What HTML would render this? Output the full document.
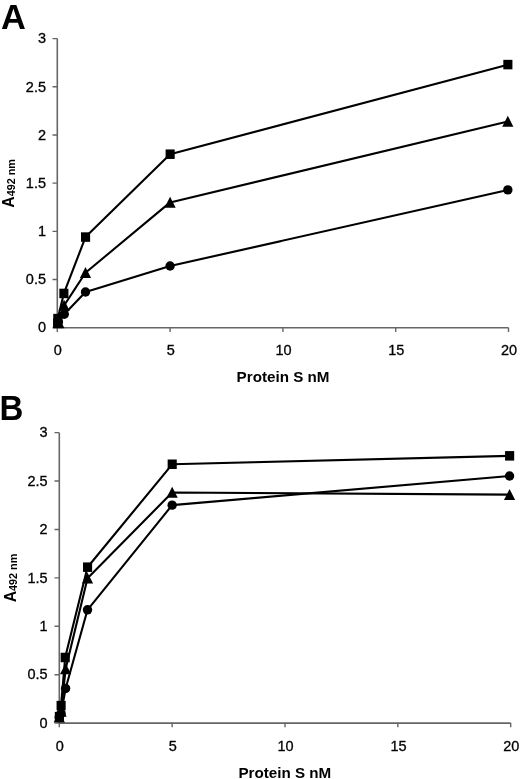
<!DOCTYPE html>
<html><head><meta charset="utf-8"><style>
html,body{margin:0;padding:0;background:#fff;}
body{width:520px;height:779px;overflow:hidden;}
svg{display:block;}
.t{font-family:"Liberation Sans",sans-serif;font-size:14.5px;fill:#000;stroke:#000;stroke-width:0.3px;}
.L{font-family:"Liberation Sans",sans-serif;font-size:35.5px;font-weight:bold;fill:#000;}
.xt{font-family:"Liberation Sans",sans-serif;font-size:15.2px;font-weight:bold;fill:#000;}
.yt{font-family:"Liberation Sans",sans-serif;font-size:15.8px;font-weight:bold;fill:#000;}
.sub{font-size:10.8px;}
</style></head><body>
<svg width="520" height="779" viewBox="0 0 520 779">
<defs><filter id="bl" x="0" y="0" width="520" height="779" filterUnits="userSpaceOnUse"><feGaussianBlur stdDeviation="0.4"/></filter></defs>
<rect width="520" height="779" fill="#fff"/>
<g filter="url(#bl)">
<path d="M57.30 38.62V327.70H508.50" fill="none" stroke="#666" stroke-width="1.6"/>
<text transform="translate(46 332.40) scale(1 1.07)" text-anchor="end" class="t">0</text>
<text transform="translate(46 284.22) scale(1 1.07)" text-anchor="end" class="t">0.5</text>
<text transform="translate(46 236.04) scale(1 1.07)" text-anchor="end" class="t">1</text>
<text transform="translate(46 187.86) scale(1 1.07)" text-anchor="end" class="t">1.5</text>
<text transform="translate(46 139.68) scale(1 1.07)" text-anchor="end" class="t">2</text>
<text transform="translate(46 91.50) scale(1 1.07)" text-anchor="end" class="t">2.5</text>
<text transform="translate(46 43.32) scale(1 1.07)" text-anchor="end" class="t">3</text>
<text transform="translate(57.90 354.8) scale(1 1.07)" text-anchor="middle" class="t">0</text>
<text transform="translate(170.70 354.8) scale(1 1.07)" text-anchor="middle" class="t">5</text>
<text transform="translate(283.50 354.8) scale(1 1.07)" text-anchor="middle" class="t">10</text>
<text transform="translate(396.30 354.8) scale(1 1.07)" text-anchor="middle" class="t">15</text>
<text transform="translate(509.10 354.8) scale(1 1.07)" text-anchor="middle" class="t">20</text>
<path d="M52.50 327.70H57.30M52.50 279.52H57.30M52.50 231.34H57.30M52.50 183.16H57.30M52.50 134.98H57.30M52.50 86.80H57.30M52.50 38.62H57.30M57.30 327.70V331.90M170.10 327.70V331.90M282.90 327.70V331.90M395.70 327.70V331.90M508.50 327.70V331.90" fill="none" stroke="#666" stroke-width="1.4"/>
<path d="M58.43 321.92L64.29 314.21L85.50 292.05L170.10 266.03L507.82 189.91" fill="none" stroke="#000" stroke-width="2.1" stroke-linejoin="round"/>
<path d="M58.88 322.88L64.07 305.54L85.50 272.77L170.10 202.43L507.82 121.49" fill="none" stroke="#000" stroke-width="2.1" stroke-linejoin="round"/>
<path d="M57.53 323.36L57.75 318.64L63.84 293.49L85.50 237.12L170.10 154.25L507.82 64.64" fill="none" stroke="#000" stroke-width="2.1" stroke-linejoin="round"/>
<circle cx="58.43" cy="321.92" r="4.7"/>
<circle cx="64.29" cy="314.21" r="4.7"/>
<circle cx="85.50" cy="292.05" r="4.7"/>
<circle cx="170.10" cy="266.03" r="4.7"/>
<circle cx="507.82" cy="189.91" r="4.7"/>
<path d="M58.88 317.18L64.48 328.18L53.28 328.18Z"/>
<path d="M64.07 299.84L69.67 310.84L58.47 310.84Z"/>
<path d="M85.50 267.07L91.10 278.07L79.90 278.07Z"/>
<path d="M170.10 196.73L175.70 207.73L164.50 207.73Z"/>
<path d="M507.82 115.79L513.42 126.79L502.22 126.79Z"/>
<rect x="53.03" y="318.56" width="9.1" height="9.5"/>
<rect x="53.25" y="313.84" width="9.1" height="9.5"/>
<rect x="59.34" y="288.69" width="9.1" height="9.5"/>
<rect x="81.00" y="232.32" width="9.1" height="9.5"/>
<rect x="165.60" y="149.45" width="9.1" height="9.5"/>
<rect x="503.32" y="59.84" width="9.1" height="9.5"/>
<text transform="translate(0.9 29.2) scale(0.97 1)" class="L">A</text>
<text transform="translate(13.7 207.66) rotate(-90)" class="yt">A<tspan class="sub" dy="1.6">492 nm</tspan></text>
<text x="236.6" y="381.9" class="xt">Protein S nM</text>
<path d="M59.30 432.64V723.10H510.70" fill="none" stroke="#666" stroke-width="1.6"/>
<text transform="translate(47.6 727.80) scale(1 1.07)" text-anchor="end" class="t">0</text>
<text transform="translate(47.6 679.39) scale(1 1.07)" text-anchor="end" class="t">0.5</text>
<text transform="translate(47.6 630.98) scale(1 1.07)" text-anchor="end" class="t">1</text>
<text transform="translate(47.6 582.57) scale(1 1.07)" text-anchor="end" class="t">1.5</text>
<text transform="translate(47.6 534.16) scale(1 1.07)" text-anchor="end" class="t">2</text>
<text transform="translate(47.6 485.75) scale(1 1.07)" text-anchor="end" class="t">2.5</text>
<text transform="translate(47.6 437.34) scale(1 1.07)" text-anchor="end" class="t">3</text>
<text transform="translate(59.90 750.9) scale(1 1.07)" text-anchor="middle" class="t">0</text>
<text transform="translate(172.75 750.9) scale(1 1.07)" text-anchor="middle" class="t">5</text>
<text transform="translate(285.60 750.9) scale(1 1.07)" text-anchor="middle" class="t">10</text>
<text transform="translate(398.45 750.9) scale(1 1.07)" text-anchor="middle" class="t">15</text>
<text transform="translate(511.30 750.9) scale(1 1.07)" text-anchor="middle" class="t">20</text>
<path d="M54.50 723.10H59.30M54.50 674.69H59.30M54.50 626.28H59.30M54.50 577.87H59.30M54.50 529.46H59.30M54.50 481.05H59.30M54.50 432.64H59.30M59.30 723.10V727.30M172.15 723.10V727.30M285.00 723.10V727.30M397.85 723.10V727.30M510.70 723.10V727.30" fill="none" stroke="#666" stroke-width="1.4"/>
<path d="M59.30 717.29L61.06 713.42L65.62 688.44L87.51 609.82L172.15 505.16L509.57 476.02" fill="none" stroke="#000" stroke-width="2.1" stroke-linejoin="round"/>
<path d="M59.30 717.29L61.06 711.48L65.62 668.88L87.51 578.16L172.15 492.47L509.57 494.60" fill="none" stroke="#000" stroke-width="2.1" stroke-linejoin="round"/>
<path d="M59.30 716.71L61.06 705.67L65.17 657.55L87.51 567.22L172.15 464.30L509.57 455.88" fill="none" stroke="#000" stroke-width="2.1" stroke-linejoin="round"/>
<circle cx="59.30" cy="717.29" r="4.7"/>
<circle cx="61.06" cy="713.42" r="4.7"/>
<circle cx="65.62" cy="688.44" r="4.7"/>
<circle cx="87.51" cy="609.82" r="4.7"/>
<circle cx="172.15" cy="505.16" r="4.7"/>
<circle cx="509.57" cy="476.02" r="4.7"/>
<path d="M59.30 711.59L64.90 722.59L53.70 722.59Z"/>
<path d="M61.06 705.78L66.66 716.78L55.46 716.78Z"/>
<path d="M65.62 663.18L71.22 674.18L60.02 674.18Z"/>
<path d="M87.51 572.46L93.11 583.46L81.91 583.46Z"/>
<path d="M172.15 486.77L177.75 497.77L166.55 497.77Z"/>
<path d="M509.57 488.90L515.17 499.90L503.97 499.90Z"/>
<rect x="54.80" y="711.91" width="9.1" height="9.5"/>
<rect x="56.56" y="700.87" width="9.1" height="9.5"/>
<rect x="60.67" y="652.75" width="9.1" height="9.5"/>
<rect x="83.01" y="562.42" width="9.1" height="9.5"/>
<rect x="167.65" y="459.50" width="9.1" height="9.5"/>
<rect x="505.07" y="451.08" width="9.1" height="9.5"/>
<text transform="translate(-0.6 420.1) scale(0.93 1)" class="L">B</text>
<text transform="translate(15.8 602.37) rotate(-90)" class="yt">A<tspan class="sub" dy="1.6">492 nm</tspan></text>
<text x="238.4" y="777.5" class="xt">Protein S nM</text>
</g>
</svg>
</body></html>
